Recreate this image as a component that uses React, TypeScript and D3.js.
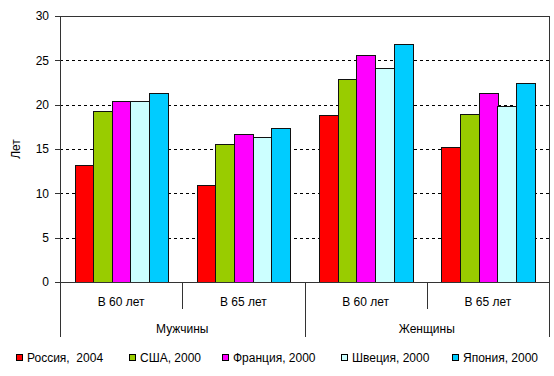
import React from "react";
import * as d3 from "d3";

const series = ["Россия,  2004", "США, 2000", "Франция, 2000", "Швеция, 2000", "Япония, 2000"];
const colors = ["#FF0000", "#99CC00", "#FF00FF", "#CCFFFF", "#00CCFF"];
const ageLabels = ["В 60 лет", "В 65 лет", "В 60 лет", "В 65 лет"];
const genders = ["Мужчины", "Женщины"];
const russia = [13.2, 10.9, 18.8, 15.2];
const usa = [19.3, 15.6, 22.9, 18.9];
const france = [20.4, 16.7, 25.6, 21.3];
const sweden = [20.4, 16.4, 24.1, 19.9];
const japan = [21.3, 17.4, 26.8, 22.4];
const yTicks = [0, 5, 10, 15, 20, 25, 30];
const yTitle = "Лет";

const values = [russia, usa, france, sweden, japan];

const W = 554, H = 376;
const L = 60, R = 549, T = 16, B = 282;
const legendX = [16, 129, 222, 341, 452];
const font = "Arial, 'Liberation Sans', sans-serif";

export default function App() {
  const cats = ageLabels.map((_, i) => String(i));
  const x = d3.scaleBand<string>().domain(cats).range([L, R]).paddingInner(0).paddingOuter(0);
  const bw = x.bandwidth();
  const groupW = bw * 0.762;
  const off = (bw - groupW) / 2;
  const xs = d3.scaleBand<number>().domain(d3.range(series.length)).range([off, off + groupW]).padding(0);
  const y = d3.scaleLinear().domain([0, 30]).range([B, T]);
  const axisColor = "#333";

  return (
    <svg width={W} height={H} style={{ position: "absolute", left: 0, top: 0, background: "#fff" }} fontFamily={font}>
      {/* grid */}
      {yTicks.filter(t => t > 0 && t < 30).map(t => (
        <line key={t} x1={L} x2={R} y1={Math.round(y(t)) + 0.5} y2={Math.round(y(t)) + 0.5} stroke="#000" strokeDasharray="3,3" />
      ))}
      {/* bars */}
      {values.map((vals, s) =>
        vals.map((v, c) => {
          const x0 = (x(String(c)) as number) + (xs(s) as number);
          return (
            <rect key={s + "-" + c} x={Math.round(x0) + 0.5} y={Math.round(y(v)) + 0.5}
              width={Math.round(xs.bandwidth())} height={Math.round(B - y(v))}
              fill={colors[s]} stroke="#111" strokeWidth={1} />
          );
        })
      )}
      {/* plot border */}
      <line x1={L} x2={R} y1={T + 0.5} y2={T + 0.5} stroke={axisColor} />
      <line x1={R + 0.5} x2={R + 0.5} y1={T} y2={337} stroke={axisColor} />
      <line x1={L + 0.5} x2={L + 0.5} y1={T} y2={337} stroke={axisColor} />
      <line x1={L} x2={R} y1={B + 0.5} y2={B + 0.5} stroke={axisColor} />
      {/* y ticks */}
      {yTicks.map(t => (
        <g key={t}>
          <line x1={55} x2={L} y1={Math.round(y(t)) + 0.5} y2={Math.round(y(t)) + 0.5} stroke={axisColor} />
          <text x={49} y={y(t)} dy="0.35em" textAnchor="end" fontSize={12} fill="#000">{t}</text>
        </g>
      ))}
      <text transform={`translate(16,${(T + B) / 2}) rotate(-90)`} textAnchor="middle" dy="0.35em" fontSize={12} fill="#000">{yTitle}</text>
      {/* category separators */}
      {[1, 3].map(i => (
        <line key={i} x1={Math.round(x(String(i)) as number) + 0.5} x2={Math.round(x(String(i)) as number) + 0.5} y1={B} y2={309} stroke={axisColor} />
      ))}
      <line x1={Math.round(x("2") as number) + 0.5} x2={Math.round(x("2") as number) + 0.5} y1={B} y2={337} stroke={axisColor} />
      {ageLabels.map((a, i) => (
        <text key={i} x={(x(String(i)) as number) + bw / 2} y={302} dy="0.35em" textAnchor="middle" fontSize={12} fill="#000">{a}</text>
      ))}
      {genders.map((g, i) => (
        <text key={g} x={(x(String(i * 2)) as number) + bw} y={329} dy="0.35em" textAnchor="middle" fontSize={12} fill="#000">{g}</text>
      ))}
      {/* legend */}
      {series.map((s, i) => (
        <g key={s}>
          <rect x={legendX[i] + 0.5} y={354.5} width={6} height={6} fill={colors[i]} stroke="#000" />
          <text x={legendX[i] + 11} y={358} dy="0.35em" fontSize={12} fill="#000" style={{ whiteSpace: "pre" }}>{s}</text>
        </g>
      ))}
    </svg>
  );
}
